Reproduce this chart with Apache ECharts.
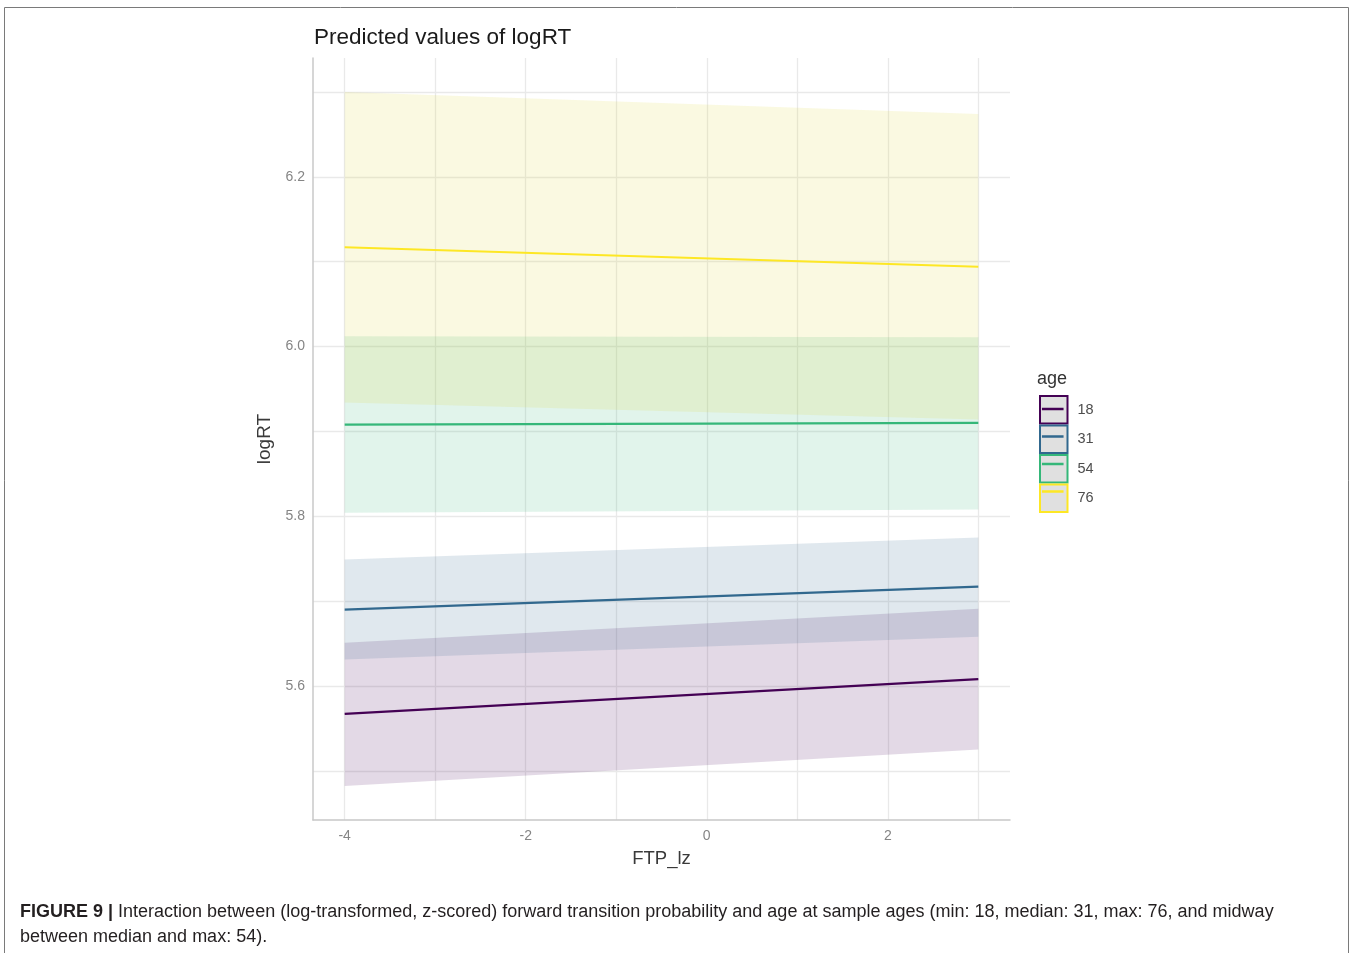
<!DOCTYPE html>
<html>
<head>
<meta charset="utf-8">
<title>Predicted values of logRT</title>
<script src="https://cdn.jsdelivr.net/npm/echarts@6/dist/echarts.min.js"></script>
<style>
  html, body { margin: 0; padding: 0; background: #fff; }
  #chart { width: 1352px; height: 953px; }
</style>
</head>
<body>
<div id="chart"></div>
<script>
// FTP_lz endpoints where the predictions were drawn
const ftp = [-4, 3];

// age groups and viridis colours
const ages = ['18', '31', '54', '76'];
const colors = ['#440154', '#31688e', '#35b779', '#fde725'];
// ribbon fills (yellow one toned down a bit like the print)
const ribbonColors = ['rgba(68,1,84,0.15)', 'rgba(49,104,142,0.15)', 'rgba(53,183,121,0.15)', 'rgba(222,215,55,0.15)'];

// predicted logRT (fit, lower CI, upper CI) at each FTP_lz value
const fit18 = [5.567, 5.608];
const lo18 = [5.482, 5.525];
const hi18 = [5.651, 5.691];

const fit31 = [5.690, 5.717];
const lo31 = [5.631, 5.658];
const hi31 = [5.749, 5.775];

const fit54 = [5.908, 5.910];
const lo54 = [5.804, 5.808];
const hi54 = [6.012, 6.011];

const fit76 = [6.117, 6.094];
const lo76 = [5.934, 5.914];
const hi76 = [6.300, 6.274];

// axis labels
const xTicks = [-4, -2, 0, 2];
const xGrid = [-4, -3, -2, -1, 0, 1, 2, 3];
const yTicks = [5.6, 5.8, 6.0, 6.2];
const yGrid = [5.5, 5.6, 5.7, 5.8, 5.9, 6.0, 6.1, 6.2, 6.3];

const fits = [fit18, fit31, fit54, fit76];
const los = [lo18, lo31, lo54, lo76];
const his = [hi18, hi31, hi54, hi76];

// ribbon between lo and hi, one polygon per segment
function bandItem(fill) {
  return function(params, api) {
    const i = params.dataIndexInside;
    if (i === 0) return null;
    const p0 = api.coord([api.value(0, i - 1), api.value(1, i - 1)]);
    const p1 = api.coord([api.value(0, i), api.value(1, i)]);
    const p2 = api.coord([api.value(0, i), api.value(2, i)]);
    const p3 = api.coord([api.value(0, i - 1), api.value(2, i - 1)]);
    return {
      type: 'polygon',
      shape: { points: [p0, p1, p2, p3] },
      style: { fill: fill }
    };
  };
}

const series = [];
ages.forEach((age, i) => {
  series.push({
    name: 'ci' + age, type: 'custom', silent: true, z: 1,
    renderItem: bandItem(ribbonColors[i]),
    encode: { x: 0, y: [1, 2] },
    data: ftp.map((x, j) => [x, los[i][j], his[i][j]])
  });
});
// fitted lines
ages.forEach((age, i) => {
  series.push({
    name: age, type: 'line', symbol: 'rect', showSymbol: false,
    color: colors[i], z: 3,
    lineStyle: { color: colors[i], width: 2.2 },
    data: ftp.map((x, j) => [x, fits[i][j]])
  });
});

const legendBase = {
  orient: 'vertical', left: 1034, top: 390,
  itemWidth: 27.5, itemHeight: 27.5, itemGap: 0,
  selectedMode: false
};

const myChart = echarts.init(document.getElementById('chart'));
myChart.setOption({
  backgroundColor: '#fff',
  animation: false,
  title: [{
    text: 'Predicted values of logRT', left: 309, top: 21,
    textStyle: { fontFamily: 'Liberation Sans', fontSize: 22.5, fontWeight: 'normal', color: '#1a1a1a' }
  }, {
    text: 'age', left: 1032, top: 365,
    textStyle: { fontFamily: 'Liberation Sans', fontSize: 18, fontWeight: 'normal', color: '#333' }
  }],
  legend: [Object.assign({}, legendBase, {
    icon: 'rect',
    data: ages.map((a, i) => ({ name: a, itemStyle: { color: '#e0e0e0', borderColor: colors[i], borderWidth: 2 } })),
    textStyle: { fontFamily: 'Liberation Sans', fontSize: 14.5, color: '#4d4d4d', padding: [0, 0, 0, 5] }
  }), Object.assign({}, legendBase, {
    icon: 'path://M0,0L0,0Z M3,13L25,13L25,15.5L3,15.5Z M28,28L28,28Z',
    data: ages.map((a, i) => ({ name: a, itemStyle: { color: colors[i], borderWidth: 0 } })),
    textStyle: { fontFamily: 'Liberation Sans', fontSize: 14.5, color: 'rgba(0,0,0,0)', padding: [0, 0, 0, 5] }
  })],
  grid: { left: 313, top: 58, right: 342, bottom: 133, containLabel: false },
  xAxis: {
    type: 'value', min: -4.35, max: 3.35,
    name: 'FTP_lz', nameLocation: 'middle', nameGap: 29,
    nameTextStyle: { fontFamily: 'Liberation Sans', fontSize: 18.5, color: '#3a3a3a' },
    axisLine: { show: true, onZero: false, lineStyle: { color: '#c8c8c8', width: 1.5 } },
    axisTick: { show: false, customValues: xGrid },
    axisLabel: {
      customValues: xTicks, margin: 9,
      fontFamily: 'Liberation Sans', fontSize: 14, color: '#858585'
    },
    splitLine: { show: true, lineStyle: { color: '#e9e9e9', width: 1.3 } }
  },
  yAxis: {
    type: 'value', min: 5.442, max: 6.34,
    name: 'logRT', nameLocation: 'middle', nameGap: 37, nameRotate: 90,
    nameTextStyle: { fontFamily: 'Liberation Sans', fontSize: 19, color: '#3a3a3a' },
    axisLine: { show: true, onZero: false, lineStyle: { color: '#c8c8c8', width: 1.5 } },
    axisTick: { show: false, customValues: yGrid },
    axisLabel: {
      customValues: yTicks, margin: 8,
      formatter: v => v.toFixed(1),
      fontFamily: 'Liberation Sans', fontSize: 14, color: '#858585'
    },
    splitLine: { show: true, lineStyle: { color: '#e9e9e9', width: 1.3 } }
  },
  series: series,
  graphic: [{
    type: 'rect', silent: true,
    shape: { x: 4.5, y: 7.5, width: 1344, height: 960 },
    style: { fill: 'none', stroke: '#7a7a7a', lineWidth: 1 }
  }, {
    type: 'text', left: 20, top: 900, silent: true,
    style: {
      text: '{b|FIGURE 9 |} Interaction between (log-transformed, z-scored) forward transition probability and age at sample ages (min: 18, median: 31, max: 76, and midway\nbetween median and max: 54).',
      fontFamily: 'Liberation Sans', fontSize: 18, fill: '#231f20', lineHeight: 25,
      rich: { b: { fontFamily: 'Liberation Sans', fontSize: 18, fontWeight: 'bold', fill: '#231f20' } }
    }
  }]
});
</script>
</body>
</html>
